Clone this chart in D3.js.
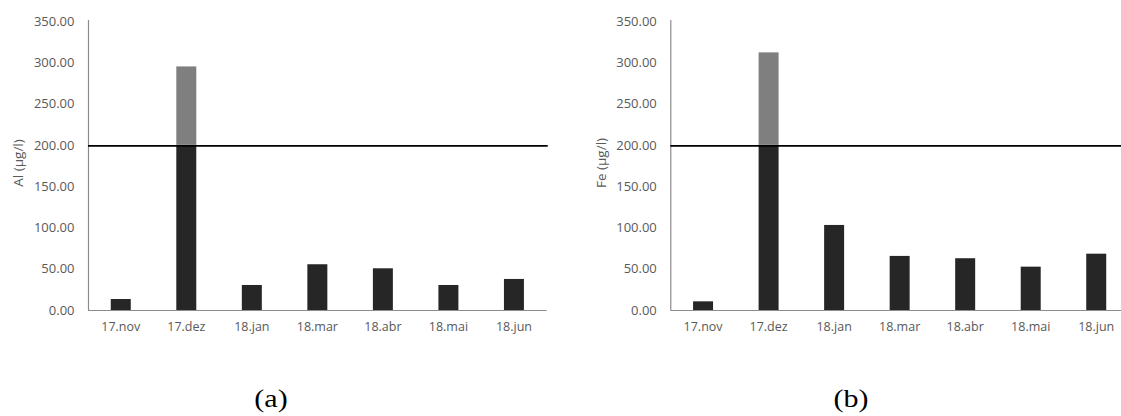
<!DOCTYPE html>
<html>
<head>
<meta charset="utf-8">
<script src="https://cdn.jsdelivr.net/npm/d3@7"></script>
<style>
  html, body { margin: 0; padding: 0; background: #fff; }
  svg { display: block; }
</style>
</head>
<body>
<svg id="chart" width="1121" height="416"></svg>
<script>
// Sampling months
const months = ["17.nov", "17.dez", "18.jan", "18.mar", "18.abr", "18.mai", "18.jun"];
// Aluminium concentrations (µg/l)
const aluminium = [13.3, 295, 30.3, 55.4, 50.5, 30.3, 37.6];
// Iron concentrations (µg/l)
const iron = [10.5, 312, 103, 65.5, 62.7, 52.5, 68.2];
// Reference limit (µg/l)
const limit = 200;
// Y axis ticks
const yTicks = [0, 50, 100, 150, 200, 250, 300, 350];

const svg = d3.select("#chart");

const panels = [
  { values: aluminium, label: "Al (µg/l)", caption: "(a)", x0: 88, x1: 546.7, lineEnd: 547.7, labelX: 18, captionX: 271 },
  { values: iron, label: "Fe (µg/l)", caption: "(b)", x0: 670.3, x1: 1129, lineEnd: 1121, labelX: 601, captionX: 851 }
];

const y = d3.scaleLinear().domain([0, 350]).range([310, 21]);

panels.forEach(p => {
  const g = svg.append("g");
  const x = d3.scaleBand().domain(months).range([p.x0, p.x1])
    .paddingInner(0.695).paddingOuter(0.3475);

  // y axis: labels only, grey spine
  const ya = g.append("g").attr("transform", `translate(${p.x0},0)`)
    .call(d3.axisLeft(y).tickValues(yTicks).tickSize(0).tickPadding(13.5)
      .tickFormat(d3.format(".2f")));
  ya.select(".domain").attr("stroke", "#8c8c8c").attr("stroke-width", 1.2)
    .attr("d", `M0.5,${y(350) - 1}V${y(0)}`);
  ya.selectAll("text").attr("fill", "#595959")
    .style("font-family", "'Open Sans', sans-serif").style("font-size", "13px");

  // bars: dark up to the limit, grey above it
  g.selectAll("rect.low").data(p.values).join("rect")
    .attr("class", "low")
    .attr("x", (d, i) => x(months[i]))
    .attr("width", x.bandwidth())
    .attr("y", d => y(Math.min(d, limit)))
    .attr("height", d => y(0) - y(Math.min(d, limit)))
    .attr("fill", "#262626");
  g.selectAll("rect.high").data(p.values.filter(d => d > limit)).join("rect")
    .attr("class", "high")
    .attr("x", d => x(months[p.values.indexOf(d)]))
    .attr("width", x.bandwidth())
    .attr("y", d => y(d))
    .attr("height", d => y(limit) - y(d))
    .attr("fill", "#7f7f7f");

  // x axis
  const xa = g.append("g").attr("transform", `translate(0,${y(0)})`)
    .call(d3.axisBottom(x).tickSize(0).tickPadding(12));
  xa.select(".domain").attr("stroke", "#8c8c8c").attr("stroke-width", 1.2)
    .attr("d", `M${p.x0},0.5H${p.x1}`);
  xa.selectAll("text").attr("fill", "#595959")
    .style("font-family", "'Open Sans', sans-serif").style("font-size", "12.5px");

  // limit line
  g.append("line")
    .attr("x1", p.x0).attr("x2", p.lineEnd)
    .attr("y1", y(limit) + 1).attr("y2", y(limit) + 1)
    .attr("stroke", "#000").attr("stroke-width", 1.8);

  // y axis title
  g.append("text")
    .attr("x", 0).attr("y", 0)
    .attr("transform", `translate(${p.labelX},163) rotate(-90)`)
    .attr("text-anchor", "middle").attr("dy", "0.35em")
    .attr("fill", "#595959")
    .style("font-family", "'Open Sans', sans-serif").style("font-size", "13.5px")
    .text(p.label);

  // panel caption
  g.append("text")
    .attr("transform", `translate(${p.captionX},407) scale(1.2,1)`)
    .attr("text-anchor", "middle")
    .attr("fill", "#000")
    .style("font-family", "'Liberation Serif', 'Times New Roman', serif").style("font-size", "25px")
    .text(p.caption);
});
</script>
</body>
</html>
